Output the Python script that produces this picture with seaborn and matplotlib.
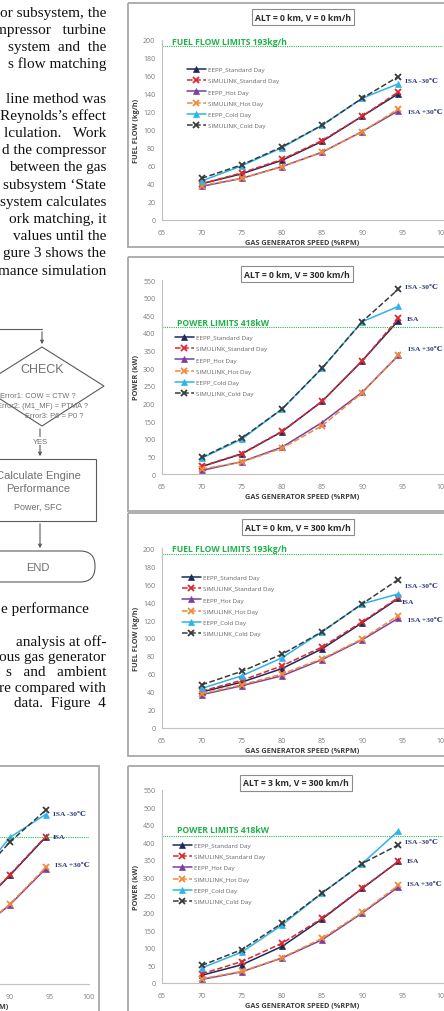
import seaborn as sns
import matplotlib.pyplot as plt
from matplotlib.patches import Rectangle, Polygon, FancyBboxPatch

sns.set_style('white')
plt.rcParams['font.family'] = ['Open Sans', 'DejaVu Sans']

W, H = 444, 1012

# x values (gas generator speed, %RPM)
speed = [70, 75, 80, 85, 90, 94.5]
series_names = ['EEPP_Standard Day', 'SIMULINK_Standard Day', 'EEPP_Hot Day',
                'SIMULINK_Hot Day', 'EEPP_Cold Day', 'SIMULINK_Cold Day']

# fuel flow, ALT = 0 km, V = 0 km/h
ff_v0_eepp_std = [40, 51, 66, 87, 115, 140]
ff_v0_sim_std = [40, 52, 67, 88, 115, 142]
ff_v0_eepp_hot = [37, 46, 59, 75, 98, 121]
ff_v0_sim_hot = [38, 46, 59, 75, 98, 123]
ff_v0_eepp_cold = [43, 60, 80, 105, 135, 151]
ff_v0_sim_cold = [46, 61, 81, 105, 135, 159]

# power, ALT = 0 km, V = 300 km/h
pw_v300_eepp_std = [21, 57, 120, 206, 321, 435]
pw_v300_sim_std = [22, 58, 121, 206, 321, 441]
pw_v300_eepp_hot = [10, 35, 76, 146, 232, 336]
pw_v300_sim_hot = [14, 34, 73, 137, 230, 338]
pw_v300_eepp_cold = [45, 99, 184, 300, 432, 475]
pw_v300_sim_cold = [47, 102, 184, 300, 432, 524]

# fuel flow, ALT = 0 km, V = 300 km/h
ff_v300_eepp_std = [40, 51, 66, 88, 117, 144]
ff_v300_sim_std = [41, 53, 69, 90, 118, 145]
ff_v300_eepp_hot = [37, 47, 58, 76, 98, 122]
ff_v300_sim_hot = [38, 48, 60, 77, 99, 125]
ff_v300_eepp_cold = [44, 58, 78, 107, 138, 149]
ff_v300_sim_cold = [48, 63, 82, 107, 138, 165]

# power, ALT = 3 km, V = 300 km/h
pw_alt3_eepp_std = [22, 52, 104, 182, 269, 346]
pw_alt3_sim_std = [26, 61, 113, 184, 270, 346]
pw_alt3_eepp_hot = [10, 32, 71, 123, 199, 273]
pw_alt3_sim_hot = [12, 33, 72, 127, 201, 278]
pw_alt3_eepp_cold = [43, 88, 165, 256, 340, 433]
pw_alt3_sim_cold = [50, 95, 170, 256, 340, 393]

# power, ALT = 0 km, V = 0 km/h (cut off on the left of the page)
pw_v0_eepp_std = [20, 55, 110, 195, 310, 418]
pw_v0_sim_std = [20, 55, 110, 195, 312, 420]
pw_v0_eepp_hot = [10, 30, 70, 135, 226, 328]
pw_v0_sim_hot = [10, 30, 70, 135, 228, 332]
pw_v0_eepp_cold = [40, 90, 170, 280, 418, 483]
pw_v0_sim_cold = [42, 92, 170, 280, 405, 495]

FUEL_LIMIT = 193
POWER_LIMIT = 418

styles = {
    'EEPP_Standard Day': dict(color='#1b2a5e', linestyle='-', marker='^'),
    'SIMULINK_Standard Day': dict(color='#e0262d', linestyle='--', marker='x'),
    'EEPP_Hot Day': dict(color='#7b3fa0', linestyle='-', marker='^'),
    'SIMULINK_Hot Day': dict(color='#f08a3c', linestyle='--', marker='x'),
    'EEPP_Cold Day': dict(color='#2cb5e8', linestyle='-', marker='^'),
    'SIMULINK_Cold Day': dict(color='#3a3a3a', linestyle='--', marker='x'),
}

fig = plt.figure(figsize=(W / 100, H / 100), dpi=100)

# page layer in pixel coordinates
page = fig.add_axes([0, 0, 1, 1], zorder=0)
page.set_xlim(0, W)
page.set_ylim(H, 0)
page.axis('off')


def axes_px(x0, x1, ytop, ybot):
    return fig.add_axes([x0 / W, 1 - ybot / H, (x1 - x0) / W, (ybot - ytop) / H], zorder=5)


def draw_chart(ax, series, ymax, ystep, ylabel, limit, legend_xy=None):
    for name, vals in zip(series_names, series):
        st = styles[name]
        is_x = st['marker'] == 'x'
        sns.lineplot(x=speed, y=vals, ax=ax, color=st['color'], linestyle=st['linestyle'],
                     marker=st['marker'], markersize=5 if is_x else 4.6,
                     markeredgewidth=1.3 if is_x else 0.5,
                     markeredgecolor=st['color'], lw=1.1, label=name, errorbar=None)
    ax.axhline(limit, color='#2db84d', linestyle=(0, (1, 1)), lw=0.8)
    ax.set_xlim(65, 100)
    ax.set_ylim(0, ymax)
    ax.set_xticks(range(65, 101, 5))
    ax.set_yticks(range(0, ymax + 1, ystep))
    ax.set_facecolor('none')
    for s in ['top', 'right']:
        ax.spines[s].set_visible(False)
    for s in ['left', 'bottom']:
        ax.spines[s].set_color('#c0c0c0')
        ax.spines[s].set_linewidth(0.8)
    ax.tick_params(axis='both', labelsize=5, labelcolor='#7a7a7a', color='#c0c0c0',
                   length=2, width=0.6)
    ax.tick_params(axis='x', pad=4.5)
    ax.tick_params(axis='y', pad=2.5)
    ax.set_xlabel('GAS GENERATOR SPEED (%RPM)', fontsize=5.3, fontweight='bold',
                  color='#404040', labelpad=2)
    ax.set_ylabel(ylabel, fontsize=5.3, fontweight='bold', color='#404040', labelpad=2.5)
    if legend_xy is not None:
        ax.legend(loc='upper left', bbox_to_anchor=(legend_xy[0] / W, 1 - legend_xy[1] / H),
                  bbox_transform=fig.transFigure, frameon=False, fontsize=4.5,
                  labelcolor='#666666', handlelength=3.0, handletextpad=0.3,
                  labelspacing=0.95, borderpad=0, borderaxespad=0)
    else:
        leg = ax.get_legend()
        if leg:
            leg.remove()


# panel frames
for top, bot in [(4, 248), (258, 512), (514, 757), (767, 1030)]:
    page.add_patch(Rectangle((128, top), 340, bot - top, fill=False, ec='#a8a8a8', lw=1.3))
page.add_patch(Rectangle((-20, 767), 119, 270, fill=False, ec='#a8a8a8', lw=1.3))

ax1 = axes_px(161.6, 442.5, 40.7, 220.7)
draw_chart(ax1, [ff_v0_eepp_std, ff_v0_sim_std, ff_v0_eepp_hot, ff_v0_sim_hot,
                 ff_v0_eepp_cold, ff_v0_sim_cold], 200, 20, 'FUEL FLOW (kg/h)',
           FUEL_LIMIT, (187, 67.5))

ax2 = axes_px(161.6, 442.5, 281, 475)
draw_chart(ax2, [pw_v300_eepp_std, pw_v300_sim_std, pw_v300_eepp_hot, pw_v300_sim_hot,
                 pw_v300_eepp_cold, pw_v300_sim_cold], 550, 50, 'POWER (kW)',
           POWER_LIMIT, (175, 335.5))

ax3 = axes_px(161.6, 442.5, 549, 729)
draw_chart(ax3, [ff_v300_eepp_std, ff_v300_sim_std, ff_v300_eepp_hot, ff_v300_sim_hot,
                 ff_v300_eepp_cold, ff_v300_sim_cold], 200, 20, 'FUEL FLOW (kg/h)',
           FUEL_LIMIT, (182, 575.5))

ax4 = axes_px(161.6, 442.5, 790.7, 984)
draw_chart(ax4, [pw_alt3_eepp_std, pw_alt3_sim_std, pw_alt3_eepp_hot, pw_alt3_sim_hot,
                 pw_alt3_eepp_cold, pw_alt3_sim_cold], 550, 50, 'POWER (kW)',
           POWER_LIMIT, (173, 843.5))

ax5 = axes_px(-187.5, 89, 792, 985)
draw_chart(ax5, [pw_v0_eepp_std, pw_v0_sim_std, pw_v0_eepp_hot, pw_v0_sim_hot,
                 pw_v0_eepp_cold, pw_v0_sim_cold], 550, 50, 'POWER (kW)', POWER_LIMIT)

# overlay for chart titles and labels
top = fig.add_axes([0, 0, 1, 1], zorder=20)
top.set_xlim(0, W)
top.set_ylim(H, 0)
top.axis('off')

box = dict(boxstyle='square,pad=0.4', fc='white', ec='#8c8c8c', lw=0.8)
for x, y, t in [(303, 18, 'ALT = 0 km, V = 0 km/h'), (297, 275, 'ALT = 0 km, V = 300 km/h'),
                (298, 528, 'ALT = 0 km, V = 300 km/h'), (296, 784, 'ALT = 3 km, V = 300 km/h')]:
    top.text(x, y, t, ha='center', va='center', fontsize=6.2, fontweight='bold',
             color='#2b2b2b', bbox=box)

green = '#22b14c'
for x, y, t in [(172, 42, 'FUEL FLOW LIMITS 193kg/h'), (177, 323, 'POWER LIMITS 418kW'),
                (172, 550, 'FUEL FLOW LIMITS 193kg/h'), (177, 831, 'POWER LIMITS 418kW')]:
    top.text(x, y, t, ha='left', va='center', fontsize=6.2, fontweight='bold', color=green)

navy = '#2e3a78'
isa_labels = [
    (405, 81, 'ISA -30℃'), (408, 112, 'ISA +30℃'),
    (405, 287, 'ISA -30℃'), (407, 319, 'ISA'), (408, 349, 'ISA +30℃'),
    (405, 587, 'ISA -30℃'), (402, 603, 'ISA'), (408, 621, 'ISA +30℃'),
    (405, 843, 'ISA -30℃'), (407, 862, 'ISA'), (407, 885, 'ISA +30℃'),
    (53, 815, 'ISA -30℃'), (53, 838, 'ISA'), (55, 866, 'ISA +30℃'),
]
for x, y, t in isa_labels:
    top.text(x, y, t, ha='left', va='center', fontsize=5.4, fontweight='bold', color=navy,
             family=['Liberation Serif', 'DejaVu Serif'])

# paper text on the left
serif = ['Liberation Serif', 'DejaVu Serif']
text_top = ['or subsystem, the', 'mpressor   turbine', 'system  and  the', 's flow matching', '',
            'line method was', 'Reynolds\u2019s effect', 'lculation.   Work', 'd the compressor',
            'between the gas', 'subsystem \u2018State', 'system calculates', 'ork matching, it',
            'values until the', 'gure 3 shows the', 'mance simulation']
for i, line in enumerate(text_top):
    page.text(106, 13 + 17.2 * i, line, ha='right', va='center', fontsize=11,
              family=serif, color='#111111')

page.text(1, 609, 'e performance', ha='left', va='center', fontsize=11, family=serif,
          color='#111111')
text_bottom = ['analysis at off-', 'ous gas generator', 's   and   ambient',
               're compared with', 'data.  Figure  4']
for i, line in enumerate(text_bottom):
    page.text(106, 642 + 15.5 * i, line, ha='right', va='center', fontsize=11,
              family=serif, color='#111111')

# flowchart fragment
fc = '#5a5a5a'
tc = '#707070'
sans = 'Liberation Sans'
page.plot([-5, 42], [330, 330], color=fc, lw=0.8)
arrow = dict(arrowstyle='-|>', color=fc, lw=0.8, mutation_scale=5)
page.annotate('', xy=(42, 348), xytext=(42, 330), arrowprops=arrow)
page.add_patch(Polygon([(42, 348), (104, 387), (42, 427), (-20, 387)], closed=True,
                       fc='white', ec=fc, lw=0.8))
page.text(42, 370, 'CHECK', ha='center', va='center', fontsize=9, color=tc, family=sans)
page.text(76, 397, 'Error1: COW = CTW ?', ha='right', va='center', fontsize=5.4, color=tc,
          family=sans)
page.text(88, 407, 'Error2: (M1_MF) = PTMA ?', ha='right', va='center', fontsize=5.4,
          color=tc, family=sans)
page.text(83, 417, 'Error3: P6 = P0 ?', ha='right', va='center', fontsize=5.4, color=tc,
          family=sans)
page.annotate('', xy=(40, 460), xytext=(40, 427), arrowprops=arrow)
page.text(40, 442, 'YES', ha='center', va='center', fontsize=5.5, color=tc,
          family=sans, bbox=dict(fc='white', ec='none', pad=0.5))
page.add_patch(Rectangle((-20, 460), 116, 62, fc='white', ec=fc, lw=0.8))
page.text(38, 476, 'Calculate Engine', ha='center', va='center', fontsize=8, color=tc,
          family=sans)
page.text(38, 489, 'Performance', ha='center', va='center', fontsize=8, color=tc,
          family=sans)
page.text(38, 507, 'Power, SFC', ha='center', va='center', fontsize=6.5, color=tc,
          family=sans)
page.annotate('', xy=(40, 552), xytext=(40, 522), arrowprops=arrow)
page.add_patch(FancyBboxPatch((-40, 552), 135, 31, boxstyle='round,pad=0,rounding_size=15',
                              fc='white', ec=fc, lw=0.8))
page.text(38, 568, 'END', ha='center', va='center', fontsize=8, color=tc, family=sans)

fig.savefig('out.png', dpi=100)
